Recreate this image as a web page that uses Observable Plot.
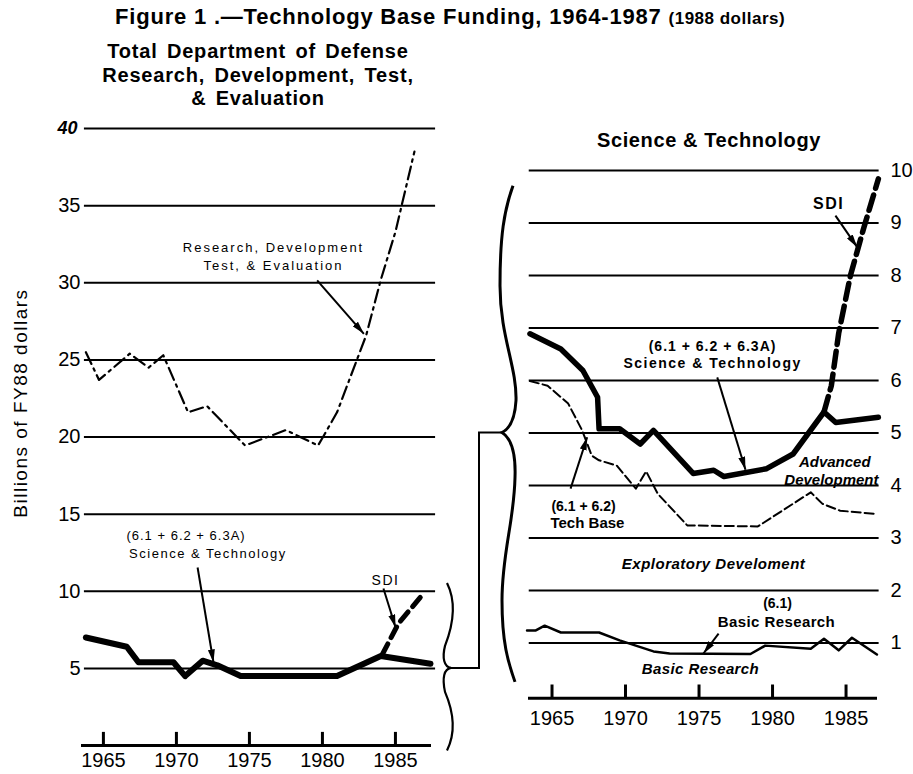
<!DOCTYPE html>
<html><head><meta charset="utf-8">
<script src="https://cdn.jsdelivr.net/npm/d3@7"></script>
<script src="https://cdn.jsdelivr.net/npm/@observablehq/plot@0.6"></script>
<style>
body{margin:0;background:#fff;}
#wrap{position:relative;width:913px;height:774px;font-family:"Liberation Sans",Arial,Helvetica,sans-serif;color:#000;overflow:hidden;}
#wrap svg{position:absolute;left:0;top:0;}
.t{position:absolute;white-space:nowrap;font-weight:bold;}
</style></head><body>
<div id="wrap">
  <div class="t" style="left:115px;top:4px;font-size:22px;line-height:25px;letter-spacing:0.8px;">Figure 1 .—Technology Base Funding, 1964-1987 <span style="font-size:17px;letter-spacing:0.5px;">(1988 dollars)</span></div>
  <div class="t" style="left:98px;top:40px;width:320px;text-align:center;font-size:20px;line-height:23.5px;letter-spacing:0.8px;word-spacing:3px;">Total Department of Defense<br>Research, Development, Test,<br>&amp; Evaluation</div>
  <div class="t" style="left:559px;top:129px;width:300px;text-align:center;font-size:20px;line-height:23px;letter-spacing:0.6px;">Science &amp; Technology</div>
</div>
<script>
// ---------- data (billions of FY88 dollars) ----------
// Left panel: total DoD RDT&E
const rdteYear  = [1963.8,1964.7,1966.8,1968.1,1969.1,1970.8,1972.1,1974.7,1977.5,1979.7,1980.1,1981,1982,1983,1984,1985,1986,1986.3];
const rdteValue = [25.5,23.7,25.4,24.5,25.3,21.6,22.0,19.45,20.45,19.45,20.1,21.6,24.1,26.6,30.2,33.3,37.3,38.5];
// Left panel: Science & Technology (6.1+6.2+6.3A)
const stLeftYear  = [1963.8,1966.6,1967.4,1969.8,1970.6,1971.8,1972.8,1974.4,1981.0,1984.0,1987.4];
const stLeftValue = [7.0,6.4,5.4,5.4,4.5,5.5,5.2,4.5,4.5,5.8,5.3];
// Left panel: S&T including SDI
const sdiLeftYear  = [1984.1,1985.2,1986.7];
const sdiLeftValue = [5.9,7.9,9.6];
// Right panel: Science & Technology
const stYear  = [1963.5,1965.6,1967.1,1968.1,1968.2,1969.6,1971.0,1971.9,1974.6,1976.0,1976.7,1979.6,1981.4,1983.5,1984.3,1987.2];
const stValue = [6.89,6.6,6.19,5.68,5.08,5.08,4.79,5.05,4.23,4.29,4.17,4.32,4.6,5.4,5.2,5.3];
// Right panel: Tech Base (6.1+6.2)
const techYear  = [1963.5,1964.7,1966.1,1967.05,1967.7,1968.2,1969.4,1970.7,1971.4,1972.2,1974.2,1979.0,1982.6,1983.4,1984.6,1987.0];
const techValue = [5.99,5.9,5.56,5.05,4.57,4.48,4.38,3.94,4.27,3.84,3.24,3.22,3.87,3.65,3.52,3.46];
// Right panel: Basic Research (6.1)
const basicYear  = [1963.3,1963.9,1964.5,1965.6,1968.2,1969.6,1971.9,1973.0,1978.5,1979.5,1982.6,1983.5,1984.5,1985.4,1987.1];
const basicValue = [1.24,1.24,1.33,1.2,1.2,1.05,0.84,0.8,0.79,0.95,0.89,1.08,0.86,1.1,0.78];
// Right panel: S&T including SDI
const sdiYear  = [1983.5,1984.0,1984.5,1985.3,1986.2,1987.2];
const sdiValue = [5.4,5.9,6.9,8.0,8.9,9.84];
// Ticks
const xTicks = [1965,1970,1975,1980,1985];
const leftGrid = [5,10,15,20,25,30,35,40];
const leftTickLabels = [5,10,15,20,25,30,35];
const leftTopLabel = [40];
const rightGrid = [1,2,3,4,5,6,7,8,9,10];

const rows = (xs, ys) => xs.map((x, i) => ({year: x, value: ys[i]}));
const FONT = '"Liberation Sans", Arial, Helvetica, sans-serif';

// ---------- left panel ----------
const xLdom = [1963.5, 1987.47], yLdom = [0, 40];
const left = Plot.plot({
  width: 913, height: 774,
  marginLeft: 81, marginRight: 482, marginTop: 128, marginBottom: 29,
  x: {domain: xLdom, axis: null},
  y: {domain: yLdom, axis: null},
  style: {background: "transparent", fontFamily: FONT, color: "black"},
  marks: [
    Plot.ruleY(leftGrid, {x1: 1963.7, x2: 1987.75, strokeWidth: 2}),
    Plot.ruleY([0], {x1: xLdom[0], x2: xLdom[1], strokeWidth: 3}),
    Plot.ruleX(xTicks, {y1: 0, y2: 0.85, strokeWidth: 3}),
    Plot.axisX({ticks: xTicks, tickSize: 0, tickPadding: 7, fontSize: 20, label: null, tickFormat: d => String(d)}),
    Plot.axisY({ticks: leftTickLabels, tickSize: 0, tickPadding: 1, fontSize: 20, label: null}),
    Plot.axisY({ticks: leftTopLabel, tickSize: 0, tickPadding: 4, fontSize: 18, label: null, fontWeight: "bold", fontStyle: "italic"}),
    Plot.line(rows(rdteYear, rdteValue), {x: "year", y: "value", strokeWidth: 2.2, strokeDasharray: "13,5,2.5,5"}),
    Plot.line(rows(stLeftYear, stLeftValue), {x: "year", y: "value", strokeWidth: 6, strokeLinejoin: "round"}),
    Plot.line(rows(sdiLeftYear, sdiLeftValue), {x: "year", y: "value", strokeWidth: 5, strokeDasharray: "12,7"}),
    Plot.text(["Billions of FY88 dollars"], {x: 1959.32, y: 22.2, text: d => d, rotate: -90, fontSize: 19}),
    Plot.text(["Research, Development"], {x: 1976.65, y: 32.29, text: d => d, fontSize: 13}),
    Plot.text(["Test, & Evaluation"], {x: 1976.65, y: 31.09, text: d => d, fontSize: 13}),
    Plot.text(["(6.1 + 6.2 + 6.3A)"], {x: 1970.66, y: 13.61, text: d => d, fontSize: 13}),
    Plot.text(["Science & Technology"], {x: 1972.16, y: 12.45, text: d => d, fontSize: 13}),
    Plot.text(["SDI"], {x: 1984.32, y: 10.7, text: d => d, fontSize: 14}),
    Plot.link([0], {x1: 1979.64, y1: 30.15, x2: 1982.84, y2: 26.69, strokeWidth: 2}),
    Plot.link([0], {x1: 1971.45, y1: 11.54, x2: 1972.54, y2: 5.38, strokeWidth: 2}),
    Plot.link([0], {x1: 1984.18, y1: 10.18, x2: 1985.01, y2: 7.65, strokeWidth: 2})
  ]
});

// ---------- right panel ----------
const xRdom = [1963.4, 1987.14], yRdom = [0, 10];
const right = Plot.plot({
  width: 913, height: 774,
  marginLeft: 528, marginRight: 36, marginTop: 170, marginBottom: 79,
  x: {domain: xRdom, axis: null},
  y: {domain: yRdom, axis: null},
  style: {background: "transparent", fontFamily: FONT, color: "black"},
  marks: [
    Plot.ruleY(rightGrid, {x1: 1963.45, x2: 1987.25, strokeWidth: 2}),
    Plot.ruleY([-0.05], {x1: xRdom[0], x2: xRdom[1], strokeWidth: 3}),
    Plot.ruleX(xTicks, {y1: -0.05, y2: 0.2, strokeWidth: 3}),
    Plot.axisX({ticks: xTicks, tickSize: 0, tickPadding: 15, fontSize: 20, label: null, tickFormat: d => String(d)}),
    Plot.axisY({anchor: "right", ticks: rightGrid, tickSize: 0, tickPadding: 13, fontSize: 20, label: null}),
    Plot.line(rows(basicYear, basicValue), {x: "year", y: "value", strokeWidth: 2.5, strokeLinejoin: "round"}),
    Plot.line(rows(techYear, techValue), {x: "year", y: "value", strokeWidth: 2, strokeDasharray: "9,4"}),
    Plot.line(rows(sdiYear, sdiValue), {x: "year", y: "value", strokeWidth: 5.5, strokeDasharray: "16,7"}),
    Plot.line(rows(stYear, stValue), {x: "year", y: "value", strokeWidth: 5.5, strokeLinejoin: "round"}),
    Plot.text(["SDI"], {x: 1983.81, y: 9.37, text: d => d, fontSize: 16, fontWeight: "bold"}),
    Plot.text(["(6.1 + 6.2 + 6.3A)"], {x: 1975.92, y: 6.65, text: d => d, fontSize: 14, fontWeight: "bold"}),
    Plot.text(["Science & Technology"], {x: 1975.92, y: 6.32, text: d => d, fontSize: 14, fontWeight: "bold"}),
    Plot.text(["Advanced"], {x: 1986.67, y: 4.44, text: d => d, fontSize: 15, fontWeight: "bold", fontStyle: "italic", textAnchor: "end"}),
    Plot.text(["Development"], {x: 1987.21, y: 4.11, text: d => d, fontSize: 15, fontWeight: "bold", fontStyle: "italic", textAnchor: "end"}),
    Plot.text(["(6.1 + 6.2)"], {x: 1967.14, y: 3.6, text: d => d, fontSize: 14, fontWeight: "bold"}),
    Plot.text(["Tech Base"], {x: 1967.41, y: 3.28, text: d => d, fontSize: 15, fontWeight: "bold"}),
    Plot.text(["Exploratory Develoment"], {x: 1975.99, y: 2.51, text: d => d, fontSize: 15, fontWeight: "bold", fontStyle: "italic"}),
    Plot.text(["(6.1)"], {x: 1980.34, y: 1.75, text: d => d, fontSize: 14, fontWeight: "bold"}),
    Plot.text(["Basic Research"], {x: 1980.27, y: 1.39, text: d => d, fontSize: 15, fontWeight: "bold"}),
    Plot.text(["Basic Research"], {x: 1975.1, y: 0.5, text: d => d, fontSize: 15, fontWeight: "bold", fontStyle: "italic"}),
    Plot.link([0], {x1: 1984.28, y1: 9.14, x2: 1985.76, y2: 8.54, strokeWidth: 2}),
    Plot.link([0], {x1: 1976.24, y1: 6.06, x2: 1978.16, y2: 4.30, strokeWidth: 2}),
    Plot.link([0], {x1: 1966.26, y1: 3.94, x2: 1967.39, y2: 4.92, strokeWidth: 2}),
    Plot.link([0], {x1: 1976.33, y1: 1.18, x2: 1975.3, y2: 0.8, strokeWidth: 2})
  ]
});

const wrap = document.getElementById("wrap");
wrap.appendChild(left);
wrap.appendChild(right);

// spacing tweaks for the typewriter-like annotation lettering
const spacing = {
  "Billions of FY88 dollars": "1.5px",
  "Research, Development": "2px", "Test, & Evaluation": "2px",
  "(6.1 + 6.2 + 6.3A)": "1px", "Science & Technology": "1.5px", "SDI": "1.5px",
  "Exploratory Develoment": "0.5px", "Basic Research": "0.4px"
};
[left, right].forEach((svg, k) => {
  d3.select(svg).selectAll("text").each(function() {
    const s = spacing[this.textContent];
    if (s) this.style.letterSpacing = s;
  });
  // filled arrowheads
  const id = "tri" + k;
  d3.select(svg).append("defs").append("marker")
    .attr("id", id).attr("viewBox", "0 0 13 7").attr("refX", 13).attr("refY", 3.5)
    .attr("markerWidth", 13).attr("markerHeight", 7).attr("markerUnits", "userSpaceOnUse")
    .attr("orient", "auto")
    .append("path").attr("d", "M0,0L13,3.5L0,7Z").attr("fill", "black");
  d3.select(svg).selectAll('g[aria-label="link"] path').attr("marker-end", `url(#${id})`);
});

// braces and connector, positioned through the same scales
const xL = d3.scaleLinear(xLdom, [81, 431]);
const yL = d3.scaleLinear(yLdom, [745, 128]);
const xR = d3.scaleLinear(xRdom, [528, 877]);
const yR = d3.scaleLinear(yRdom, [695, 170]);
const ov = d3.select(wrap).append("svg").attr("width", 913).attr("height", 774);
{
  const x0 = xL(xLdom[1]) + 16, top = yL(10.5), cy = yL(5), bot = yL(-0.35);
  ov.append("path").attr("fill", "none").attr("stroke", "black").attr("stroke-width", 2.2)
    .attr("d", `M${x0},${top} C${x0+9},${top+18} ${x0+7},${cy-45} ${x0-2},${cy-22} C${x0-5},${cy-10} ${x0-3},${cy-1} ${x0+4},${cy} C${x0-3},${cy+1} ${x0-5},${cy+10} ${x0-2},${cy+24} C${x0+7},${cy+45} ${x0+9},${bot-18} ${x0},${bot}`);
  const cR = xR(xRdom[0]) - 26, cyR = yR(5);
  ov.append("path").attr("fill", "none").attr("stroke", "black").attr("stroke-width", 2)
    .attr("d", `M${x0+4},${cy} H${cR - 23} V${cyR} H${cR}`);
  const tR = yR(9.7), bR = yR(0.25);
  ov.append("path").attr("fill", "none").attr("stroke", "black").attr("stroke-width", 3)
    .attr("d", `M${cR+11},${tR} C${cR+2},${tR+25} ${cR-2},${tR+50} ${cR-2},${tR+100} C${cR-2},${tR+150} ${cR+15},${cyR-65} ${cR+14},${cyR-32} C${cR+13},${cyR-14} ${cR+8},${cyR-4} ${cR},${cyR} C${cR+8},${cyR+5} ${cR+14},${cyR+18} ${cR+13},${cyR+45} C${cR+12},${cyR+90} ${cR},${cyR+120} ${cR},${cyR+168} C${cR},${cyR+210} ${cR+6},${bR-20} ${cR+13},${bR}`);
}
</script>
</body></html>
